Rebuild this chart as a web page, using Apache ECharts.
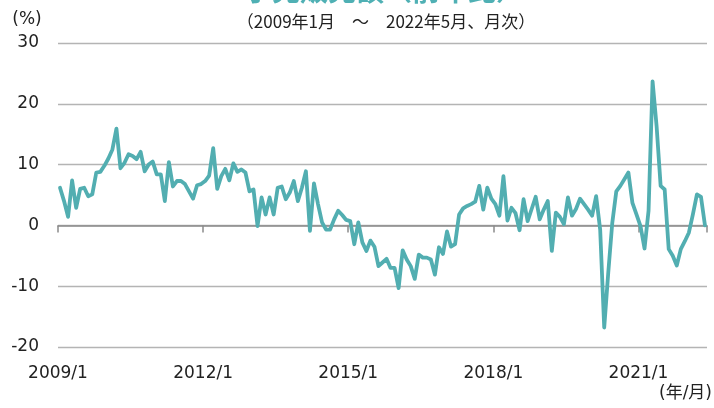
<!DOCTYPE html>
<html>
<head>
<meta charset="utf-8">
<script src="https://cdn.jsdelivr.net/npm/echarts@6/dist/echarts.min.js"></script>
<style>
  html, body { margin: 0; padding: 0; background: #fff; }
  #chart { width: 714px; height: 408px; }
</style>
</head>
<body>
<div id="chart"></div>
<script>
// 月次データ 2009/1 ～ 2022/5（前年比, %）
var startYear = 2009
var values = [
  6.2, 4.0, 1.4, 7.4, 2.9, 6.0, 6.2, 4.8, 5.1, 8.7, 8.8, 9.8,
  11.0, 12.5, 15.9, 9.4, 10.3, 11.7, 11.4, 10.9, 12.1, 8.9, 10.0, 10.5,
  8.4, 8.4, 4.0, 10.4, 6.4, 7.3, 7.3, 6.8, 5.6, 4.4, 6.6, 6.8,
  7.3, 8.2, 12.7, 6.0, 8.1, 9.3, 7.4, 10.2, 8.8, 9.2, 8.7, 5.6,
  5.9, -0.1, 4.6, 1.8, 4.6, 1.8, 6.2, 6.4, 4.3, 5.4, 7.3, 4.0,
  6.2, 8.9, -0.9, 6.9, 3.5, 0.5, -0.7, -0.7, 1.0, 2.4, 1.7, 0.9,
  0.7, -3.1, 0.5, -2.8, -4.2, -2.5, -3.5, -6.7, -6.1, -5.5, -7.0, -7.0,
  -10.3, -4.1, -5.6, -6.7, -8.8, -4.8, -5.3, -5.3, -5.6, -8.1, -3.6, -4.7,
  -1.0, -3.5, -3.1, 1.8, 2.8, 3.2, 3.5, 3.9, 6.5, 2.6, 6.2, 4.4,
  3.5, 1.6, 8.1, 0.8, 2.9, 2.0, -0.8, 4.3, 0.7, 2.7, 4.7, 1.0,
  2.6, 4.0, -4.2, 2.1, 1.4, 0.2, 4.6, 1.6, 2.7, 4.4, 3.5, 2.6,
  1.6, 4.8, -0.7, -16.8, -7.8, 0.4, 5.6, 6.5, 7.6, 8.7, 3.7, 1.8,
  -0.1, -3.8, 2.4, 23.7, 16.3, 6.5, 5.9, -3.9, -5.0, -6.6, -3.9, -2.6,
  -1.2, 1.8, 5.1, 4.7, 0.0
]
var yTicks = [-20, -10, 0, 10, 20, 30]
var xLabelEvery = 36   // 3年ごと

var lineColor = '#52aeb1'
var font = "'DejaVu Sans', 'Noto Sans CJK JP', sans-serif"

// 各月はカテゴリ幅の中央に置く（目盛は月の境目）
var points = values.map(function (v, i) { return [i + 0.5, v] })

function monthLabel (v) {
  var y = startYear + Math.floor(v / 12)
  var m = v % 12 + 1
  return y + '/' + m
}

var option = {
  animation: false,
  backgroundColor: '#fff',
  textStyle: { fontFamily: font },
  graphic: [
    // 上端で切れているタイトル
    {
      type: 'text', x: 384, y: -10,
      style: { text: '小売販売額（前年比）', align: 'center', verticalAlign: 'middle', fill: '#4fb0b4',
        fontSize: 28, fontWeight: 'bold', fontFamily: "'Noto Sans CJK JP', sans-serif" }
    },
    {
      type: 'text', x: 386, y: 22,
      style: { text: '（2009年1月　～　2022年5月、月次）', align: 'center', verticalAlign: 'middle', fill: '#222',
        fontSize: 17, fontFamily: "'Noto Sans CJK JP', sans-serif" }
    },
    { type: 'text', x: 27, y: 20, style: { text: '(%)', align: 'center', verticalAlign: 'middle', fill: '#222', fontSize: 17, fontFamily: font } },
    { type: 'text', x: 712, y: 394, style: { text: '(年/月)', align: 'right', verticalAlign: 'middle', fill: '#222', fontSize: 17, fontFamily: font } }
  ],
  grid: { left: 58, right: 7, top: 43, bottom: 61, containLabel: false },
  xAxis: [
    {
      type: 'value', min: 0, max: values.length, interval: xLabelEvery,
      axisLine: { onZero: true, lineStyle: { color: '#8a8a8a', width: 1.5 } },
      axisTick: { show: true, inside: false, length: 7, lineStyle: { color: '#8a8a8a', width: 1.5 } },
      axisLabel: { show: false },
      splitLine: { show: false }
    },
    {
      type: 'value', min: 0, max: values.length, interval: xLabelEvery, position: 'bottom',
      axisLine: { show: false, onZero: false },
      axisTick: { show: false },
      axisLabel: { show: true, margin: 18, color: '#222', fontSize: 17, showMaxLabel: false, formatter: monthLabel },
      splitLine: { show: false }
    }
  ],
  yAxis: {
    type: 'value', min: yTicks[0], max: yTicks[yTicks.length - 1], interval: 10,
    axisLine: { show: false },
    axisTick: { show: false },
    axisLabel: { margin: 19, color: '#222', fontSize: 17 },
    splitLine: { lineStyle: { color: '#b4b4b4', width: 1.3 } }
  },
  series: [
    {
      type: 'line',
      xAxisIndex: 0,
      data: points,
      showSymbol: false,
      symbol: 'none',
      lineStyle: { color: lineColor, width: 3.8, join: 'round', cap: 'round' },
      z: 3
    }
  ]
}

var myChart = echarts.init(document.getElementById('chart'), null, { renderer: 'canvas' })
myChart.setOption(option)
</script>
</body>
</html>
